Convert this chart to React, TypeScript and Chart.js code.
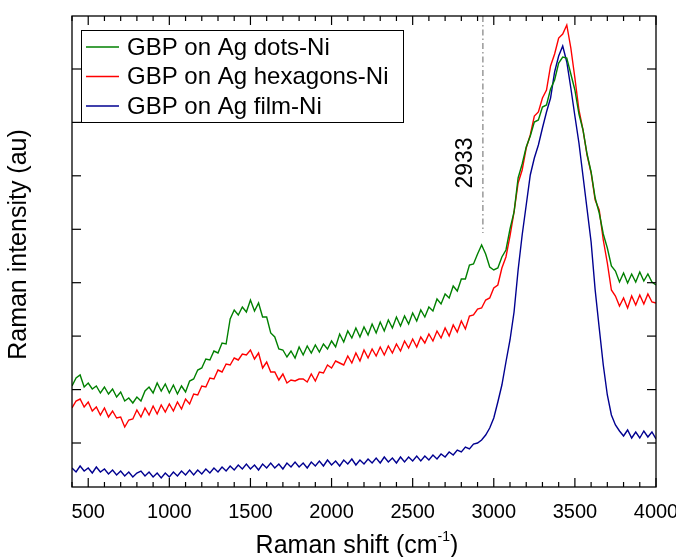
import React, { useEffect, useRef } from "react";
import { Chart, registerables } from "chart.js";

Chart.register(...registerables);

// Raman shift (cm-1)
const ramanShift = [
  400, 425, 450, 475, 500, 525, 550, 575, 600, 625,
  650, 675, 700, 725, 750, 775, 800, 825, 850, 875,
  900, 925, 950, 975, 1000, 1025, 1050, 1075, 1100, 1125,
  1150, 1175, 1200, 1225, 1250, 1275, 1300, 1325, 1350, 1375,
  1400, 1425, 1450, 1475, 1500, 1525, 1550, 1575, 1600, 1625,
  1650, 1675, 1700, 1725, 1750, 1775, 1800, 1825, 1850, 1875,
  1900, 1925, 1950, 1975, 2000, 2025, 2050, 2075, 2100, 2125,
  2150, 2175, 2200, 2225, 2250, 2275, 2300, 2325, 2350, 2375,
  2400, 2425, 2450, 2475, 2500, 2525, 2550, 2575, 2600, 2625,
  2650, 2675, 2700, 2725, 2750, 2775, 2800, 2825, 2850, 2875,
  2900, 2925, 2950, 2975, 3000, 3025, 3050, 3075, 3100, 3125,
  3150, 3175, 3200, 3225, 3250, 3275, 3300, 3325, 3350, 3375,
  3400, 3425, 3450, 3475, 3500, 3525, 3550, 3575, 3600, 3625,
  3650, 3675, 3700, 3725, 3750, 3775, 3800, 3825, 3850, 3875,
  3900, 3925, 3950, 3975, 4000,
];

// GBP on Ag dots-Ni (green)
const dotsNi = [
  1010, 1090, 1120, 1000, 1040, 980, 1010, 940, 1000, 930,
  980, 900, 950, 860, 890, 840, 900, 860, 960, 1000,
  940, 1040, 960, 1030, 940, 1020, 930, 1010, 950, 1060,
  1080, 1170, 1190, 1280, 1270, 1360, 1340, 1440, 1430, 1680,
  1770, 1720, 1800, 1750, 1870, 1760, 1840, 1700, 1700, 1540,
  1500, 1380, 1370, 1300, 1360, 1290, 1400, 1320, 1410, 1340,
  1420, 1350, 1430, 1380, 1460, 1400, 1530, 1450, 1560, 1490,
  1590, 1500, 1600, 1520, 1630, 1540, 1650, 1560, 1670, 1590,
  1700, 1610, 1710, 1630, 1740, 1660, 1770, 1700, 1800, 1760,
  1880, 1830, 1930, 1890, 2010, 1960, 2080, 2080, 2220, 2230,
  2330, 2420, 2330, 2200, 2170, 2190, 2300, 2370, 2580, 2750,
  3090, 3230, 3400, 3510, 3650, 3670, 3800, 3820, 3980, 4070,
  4240, 4300, 4290, 4130, 3970, 3730, 3570, 3330, 3150, 2890,
  2740, 2530, 2390, 2210, 2160, 2050, 2140, 2040, 2130, 2050,
  2150, 2060, 2130, 2050, 2020,
];

// GBP on Ag hexagons-Ni (red)
const hexagonsNi = [
  790, 860, 880, 800, 850, 760, 800, 720, 790, 700,
  760, 690, 700, 600, 670, 680, 770, 700, 790, 720,
  810, 730, 820, 750, 830, 760, 850, 780, 880, 830,
  930, 920, 1010, 1000, 1090, 1080, 1170, 1150, 1230, 1220,
  1290, 1270, 1330, 1320, 1370, 1280, 1340, 1190, 1250, 1150,
  1150, 1070, 1130, 1040, 1070, 1060, 1080, 1080, 1050, 1130,
  1060, 1150, 1140, 1220, 1190, 1260, 1240, 1220, 1310, 1240,
  1340, 1260, 1370, 1290, 1380, 1310, 1400, 1320, 1410, 1340,
  1430, 1360, 1460, 1390, 1480, 1400, 1500, 1440, 1530, 1460,
  1560, 1490, 1590, 1510, 1620, 1550, 1660, 1580, 1710, 1720,
  1780, 1790, 1870, 1890, 1990, 2020, 2190, 2300, 2510, 2750,
  3040, 3170, 3390, 3520, 3710, 3750, 3890, 3970, 4210, 4330,
  4490, 4530, 4620, 4390, 4090, 3770, 3570, 3320, 3140, 2870,
  2770, 2470, 2240, 1970, 1910, 1810, 1890, 1790, 1910, 1820,
  1920, 1830, 1930, 1850, 1840,
];

// GBP on Ag film-Ni (blue)
const filmNi = [
  190, 150, 210, 160, 190, 140, 200, 150, 180, 130,
  170, 120, 160, 110, 150, 100, 140, 160, 110, 150,
  100, 140, 90, 140, 100, 150, 110, 160, 120, 170,
  120, 170, 130, 180, 140, 190, 150, 200, 160, 210,
  170, 220, 180, 230, 180, 220, 170, 230, 190, 240,
  190, 230, 180, 240, 200, 250, 200, 240, 190, 250,
  210, 260, 210, 270, 220, 260, 210, 270, 230, 280,
  220, 270, 230, 280, 240, 290, 240, 300, 250, 290,
  240, 300, 250, 300, 260, 310, 260, 310, 270, 320,
  280, 330, 300, 350, 320, 370, 350, 400, 380, 430,
  440, 470, 520, 590, 690, 850, 1020, 1250, 1470, 1750,
  2170, 2520, 2820, 3120, 3290, 3420, 3590, 3750, 3890, 4150,
  4310, 4410, 4250, 3990, 3710, 3440, 3110, 2780, 2450, 1970,
  1590, 1220, 920, 720, 620, 560, 510, 570, 490, 550,
  490, 560, 500, 550, 480,
];

const seriesLabels = ["GBP on Ag dots-Ni", "GBP on Ag hexagons-Ni", "GBP on Ag film-Ni"];
const seriesColors = ["#008000", "#ff0000", "#000090"];

const xMajorTicks = [500, 1000, 1500, 2000, 2500, 3000, 3500, 4000];
const xMinorTicks = [
  400, 600, 700, 800, 900, 1100, 1200, 1300, 1400, 1600, 1700, 1800, 1900,
  2100, 2200, 2300, 2400, 2600, 2700, 2800, 2900, 3100, 3200, 3300, 3400,
  3600, 3700, 3800, 3900,
];
const yMajorTicks = [440, 974, 1509, 2043, 2577, 3112, 3646, 4180];
const xRange = [400, 4000];
const yRange = [0, 4710];

const peakPosition = 2933;
const peakLabel = "2933";
const peakLineFrom = 2540;
const peakLabelX = 2826;
const peakLabelY = 3240;

const xTitleMain = "Raman shift (cm";
const xTitleSup = "-1";
const xTitleEnd = ")";
const yTitle = "Raman intensity (au)";

const FONT = 'Arial, "Liberation Sans", Helvetica, sans-serif';

const decorPlugin = {
  id: "decor",
  afterDatasetsDraw(chart: any) {
    const { ctx, chartArea: a, scales } = chart;
    const xs = scales.x;
    const ys = scales.y;
    const line = (x1: number, y1: number, x2: number, y2: number) => {
      ctx.beginPath();
      ctx.moveTo(x1, y1);
      ctx.lineTo(x2, y2);
      ctx.stroke();
    };
    ctx.save();

    // peak marker (dash-dot)
    const px = xs.getPixelForValue(peakPosition);
    ctx.strokeStyle = "#666";
    ctx.lineWidth = 1;
    ctx.setLineDash([6, 3, 1.5, 3]);
    line(px, a.top, px, ys.getPixelForValue(peakLineFrom));
    ctx.setLineDash([]);

    ctx.fillStyle = "#000";
    ctx.save();
    ctx.translate(xs.getPixelForValue(peakLabelX), ys.getPixelForValue(peakLabelY));
    ctx.rotate(-Math.PI / 2);
    ctx.font = `23px ${FONT}`;
    ctx.textAlign = "center";
    ctx.textBaseline = "middle";
    ctx.fillText(peakLabel, 0, 0);
    ctx.restore();

    // frame
    ctx.strokeStyle = "#000";
    ctx.lineWidth = 1.3;
    ctx.strokeRect(a.left, a.top, a.right - a.left, a.bottom - a.top);

    // ticks (inward, mirrored)
    ctx.lineWidth = 1.2;
    for (const v of xMajorTicks) {
      const p = xs.getPixelForValue(v);
      line(p, a.bottom, p, a.bottom - 9);
      line(p, a.top, p, a.top + 9);
    }
    for (const v of xMinorTicks) {
      const p = xs.getPixelForValue(v);
      line(p, a.bottom, p, a.bottom - 5);
      line(p, a.top, p, a.top + 5);
    }
    for (const v of yMajorTicks) {
      const p = ys.getPixelForValue(v);
      line(a.left, p, a.left + 9, p);
      line(a.right, p, a.right - 9, p);
    }

    // legend
    const lx = a.left + 9;
    const ly = a.top + 14;
    const lw = 322;
    const lh = 92;
    ctx.fillStyle = "#fff";
    ctx.fillRect(lx, ly, lw, lh);
    ctx.strokeStyle = "#000";
    ctx.lineWidth = 1;
    ctx.strokeRect(lx + 0.5, ly + 0.5, lw, lh);
    ctx.font = `24px ${FONT}`;
    ctx.textAlign = "left";
    ctx.textBaseline = "middle";
    chart.data.datasets.forEach((ds: any, i: number) => {
      const cy = ly + 17 + i * 29.5;
      ctx.strokeStyle = ds.borderColor;
      ctx.lineWidth = 1.5;
      line(lx + 5, cy, lx + 38, cy);
      ctx.fillStyle = "#000";
      ctx.fillText(ds.label, lx + 46, cy + 1);
    });

    // axis titles
    ctx.fillStyle = "#000";
    ctx.textBaseline = "alphabetic";
    ctx.font = `25px ${FONT}`;
    const w1 = ctx.measureText(xTitleMain).width;
    const w3 = ctx.measureText(xTitleEnd).width;
    ctx.font = `14px ${FONT}`;
    const w2 = ctx.measureText(xTitleSup).width;
    const total = w1 + w2 + w3;
    const cx = (a.left + a.right) / 2 - 7;
    const bx = cx - total / 2;
    const by = 553;
    ctx.font = `25px ${FONT}`;
    ctx.fillText(xTitleMain, bx, by);
    ctx.font = `14px ${FONT}`;
    ctx.fillText(xTitleSup, bx + w1, by - 12);
    ctx.font = `25px ${FONT}`;
    ctx.fillText(xTitleEnd, bx + w1 + w2, by);

    ctx.save();
    ctx.translate(19, (a.top + a.bottom) / 2 - 7);
    ctx.rotate(-Math.PI / 2);
    ctx.textAlign = "center";
    ctx.textBaseline = "middle";
    ctx.fillText(yTitle, 0, 0);
    ctx.restore();

    ctx.restore();
  },
};

export default function App() {
  const canvasRef = useRef<HTMLCanvasElement | null>(null);

  useEffect(() => {
    const canvas = canvasRef.current;
    if (!canvas) return;
    const series = [dotsNi, hexagonsNi, filmNi];
    const drawOrder = [0, 2, 1];
    const chart = new Chart(canvas, {
      type: "line",
      data: {
        datasets: series.map((vals, i) => ({
          label: seriesLabels[i],
          data: ramanShift.map((x, j) => ({ x, y: vals[j] })),
          borderColor: seriesColors[i],
          backgroundColor: seriesColors[i],
          borderWidth: 1.4,
          pointRadius: 0,
          tension: 0,
          fill: false,
          order: drawOrder[i],
        })),
      },
      options: {
        responsive: false,
        animation: false,
        devicePixelRatio: 1,
        layout: { padding: { left: 72, right: 20, top: 16, bottom: 0 } },
        plugins: { legend: { display: false }, tooltip: { enabled: false } },
        scales: {
          x: {
            type: "linear",
            min: xRange[0],
            max: xRange[1],
            grid: { display: false },
            border: { display: false },
            ticks: {
              color: "#000",
              font: { size: 20, family: FONT },
              padding: 5,
              maxRotation: 0,
              autoSkip: false,
              callback: (v: any) => String(v),
            },
            afterBuildTicks: (s: any) => {
              s.ticks = xMajorTicks.map((v) => ({ value: v }));
            },
            afterFit: (s: any) => {
              s.height = 70;
              s.paddingLeft = 0;
              s.paddingRight = 0;
            },
          },
          y: {
            type: "linear",
            display: false,
            min: yRange[0],
            max: yRange[1],
          },
        },
      },
      plugins: [decorPlugin],
    } as any);
    return () => chart.destroy();
  }, []);

  return (
    <div style={{ position: "absolute", left: 0, top: 0, width: 676, height: 557, background: "#fff" }}>
      <canvas ref={canvasRef} width={676} height={557} style={{ display: "block" }} />
    </div>
  );
}
